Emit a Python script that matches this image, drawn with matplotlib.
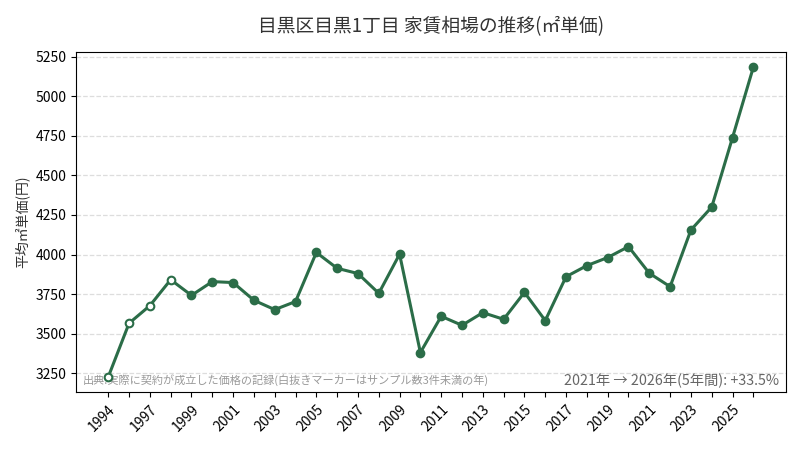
import matplotlib
matplotlib.use("Agg")
import matplotlib.pyplot as plt

plt.rcParams['font.family'] = ['Noto Sans CJK JP', 'DejaVu Sans']

years = list(range(1995, 2027))
values = [3227, 3566, 3677, 3841, 3742, 3829, 3823, 3711, 3652, 3703,
          4013, 3913, 3880, 3755, 4002, 3381, 3610, 3553, 3633, 3591,
          3761, 3583, 3860, 3930, 3981, 4050, 3882, 3797, 4155, 4300,
          4739, 5183]
hollow = [True, True, True, True] + [False] * 28
tick_labels = ['1994', '', '1997', '', '1999', '', '2001', '', '2003', '',
               '2005', '', '2007', '', '2009', '', '2011', '', '2013', '',
               '2015', '', '2017', '', '2019', '', '2021', '', '2023', '',
               '2025', '']

title = '目黒区目黒1丁目 家賃相場の推移(㎡単価)'
ylabel = '平均㎡単価(円)'
note = '出典:実際に契約が成立した価格の記録(白抜きマーカーはサンプル数3件未満の年)'
change = '2021年 → 2026年(5年間): +33.5%'

color = '#2b6d48'

fig, ax = plt.subplots(figsize=(8, 4.5), dpi=100)
fig.subplots_adjust(left=0.095, right=0.982, top=0.885, bottom=0.128)

ax.plot(years, values, color=color, linewidth=2.2, zorder=3)
for x, y, h in zip(years, values, hollow):
    ax.plot([x], [y], marker='o', markersize=5.5,
            markerfacecolor='white' if h else color,
            markeredgecolor=color, markeredgewidth=1.5, zorder=4)

ax.set_xticks(years)
ax.set_xticklabels(tick_labels, rotation=45, ha='right', rotation_mode='anchor', fontsize=10)
ax.tick_params(axis='y', labelsize=10)
ax.set_yticks([3250, 3500, 3750, 4000, 4250, 4500, 4750, 5000, 5250])
ax.grid(axis='y', linestyle='--', color='#dddddd', linewidth=0.9)
ax.set_axisbelow(True)
ax.set_ylabel(ylabel, fontsize=10, color='#333333')
ax.set_title(title, fontsize=13.5, color='#333333', pad=14)

ax.text(0.01, 0.035, note, transform=ax.transAxes, fontsize=8,
        color='#999999', ha='left', va='center', zorder=1)
ax.text(0.99, 0.035, change, transform=ax.transAxes, fontsize=10.3,
        color='#666666', ha='right', va='center', zorder=1)

fig.savefig('out.png', dpi=100)
